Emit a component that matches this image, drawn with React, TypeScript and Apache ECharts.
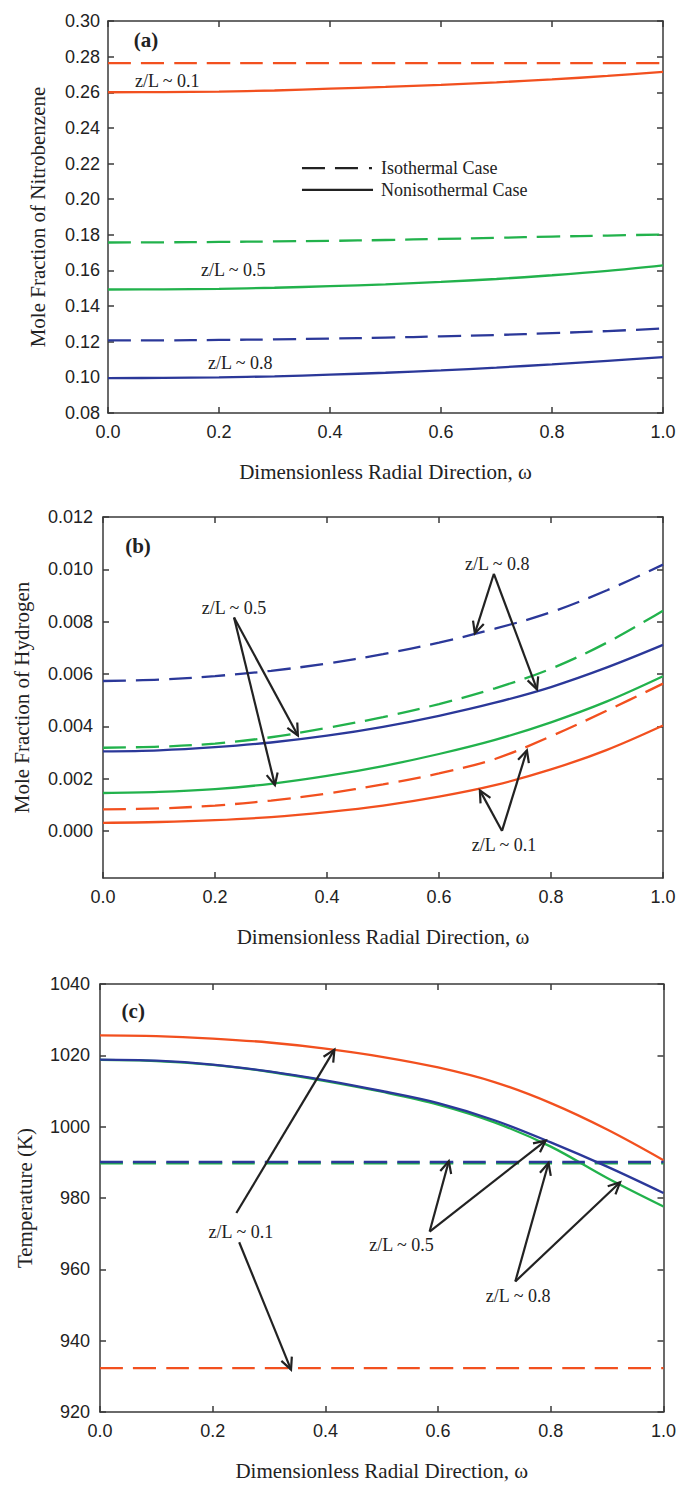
import React, { useEffect, useRef } from "react";
import * as echarts from "echarts";

// Dimensionless radial position sampled across the reactor tube
const omega = [0, 0.1, 0.2, 0.3, 0.4, 0.5, 0.6, 0.7, 0.8, 0.9, 1.0];

// (a) mole fraction of nitrobenzene
const nbIso01 = [0.2764, 0.2764, 0.2764, 0.2764, 0.2764, 0.2764, 0.2764, 0.2764, 0.2764, 0.2764, 0.2764];
const nbNon01 = [0.2600, 0.2601, 0.2604, 0.2610, 0.2620, 0.2630, 0.2642, 0.2656, 0.2672, 0.2692, 0.2714];
const nbIso05 = [0.1757, 0.1758, 0.1760, 0.1763, 0.1766, 0.1771, 0.1777, 0.1783, 0.1790, 0.1796, 0.1802];
const nbNon05 = [0.1493, 0.1494, 0.1497, 0.1503, 0.1512, 0.1522, 0.1536, 0.1552, 0.1573, 0.1598, 0.1629];
const nbIso08 = [0.1208, 0.1208, 0.1210, 0.1213, 0.1218, 0.1223, 0.1230, 0.1238, 0.1248, 0.1260, 0.1274];
const nbNon08 = [0.0996, 0.0997, 0.1000, 0.1006, 0.1015, 0.1026, 0.1039, 0.1055, 0.1073, 0.1093, 0.1114];

// (b) mole fraction of hydrogen
const h2Iso08 = [0.00573, 0.00578, 0.00592, 0.00612, 0.00640, 0.00676, 0.00720, 0.00773, 0.00836, 0.00920, 0.01018];
const h2Non08 = [0.00304, 0.00308, 0.00320, 0.00338, 0.00364, 0.00398, 0.00440, 0.00490, 0.00550, 0.00625, 0.00711];
const h2Iso05 = [0.00318, 0.00322, 0.00334, 0.00358, 0.00394, 0.00435, 0.00485, 0.00545, 0.00620, 0.00720, 0.00842];
const h2Non05 = [0.00145, 0.00149, 0.00160, 0.00180, 0.00210, 0.00248, 0.00294, 0.00348, 0.00415, 0.00495, 0.00591];
const h2Iso01 = [0.00082, 0.00086, 0.00097, 0.00116, 0.00143, 0.00178, 0.00220, 0.00275, 0.00362, 0.00460, 0.00563];
const h2Non01 = [0.00031, 0.00034, 0.00041, 0.00053, 0.00072, 0.00097, 0.00131, 0.00175, 0.00235, 0.00310, 0.00403];

// (c) temperature, K
const tIso01 = [932.3, 932.3, 932.3, 932.3, 932.3, 932.3, 932.3, 932.3, 932.3, 932.3, 932.3];
const tNon01 = [1025.6, 1025.4, 1024.7, 1023.6, 1021.9, 1019.6, 1016.6, 1012.5, 1006.6, 999.2, 990.6];
const tIso05 = [989.7, 989.7, 989.7, 989.7, 989.7, 989.7, 989.7, 989.7, 989.7, 989.7, 989.7];
const tNon05 = [1018.7, 1018.4, 1017.3, 1015.4, 1012.8, 1009.8, 1006.2, 1001.2, 994.4, 985.6, 977.6];
const tIso08 = [990.1, 990.1, 990.1, 990.1, 990.1, 990.1, 990.1, 990.1, 990.1, 990.1, 990.1];
const tNon08 = [1018.8, 1018.5, 1017.4, 1015.5, 1013.0, 1010.0, 1006.6, 1001.8, 995.6, 988.8, 981.4];

// Tick labels
const h2Ticks = [0, 0.002, 0.004, 0.006, 0.008, 0.010, 0.012];

const RED = "#F2501F";
const GREEN = "#22B24C";
const BLUE = "#2B3899";
const INK = "#222222";
const AXIS = "#3a3a3a";
const SANS = '"Liberation Sans", Arial, sans-serif';
const SERIF = '"Liberation Serif", "Times New Roman", serif';
const DASH = [23, 10];

type Pt = [number, number];
type Note = { text: string; at: Pt; align?: "left" | "center"; bold?: boolean; size?: number; arrows?: { from: Pt; to: Pt }[] };

// Annotations in each panel's data coordinates
const notesA: Note[] = [
  { text: "(a)", at: [0.0685, 0.2893], align: "center", bold: true, size: 21 },
  { text: "z/L ~ 0.1", at: [0.0486, 0.2663], align: "left" },
  { text: "z/L ~ 0.5", at: [0.1676, 0.1603], align: "left" },
  { text: "z/L ~ 0.8", at: [0.180, 0.1081], align: "left" },
];
const notesB: Note[] = [
  { text: "(b)", at: [0.0625, 0.01091], align: "center", bold: true, size: 21 },
  {
    text: "z/L ~ 0.5", at: [0.234, 0.00854],
    arrows: [{ from: [0.234, 0.00816], to: [0.348, 0.00365] }, { from: [0.234, 0.00816], to: [0.307, 0.00175] }],
  },
  {
    text: "z/L ~ 0.8", at: [0.704, 0.01022],
    arrows: [{ from: [0.698, 0.00983], to: [0.664, 0.00755] }, { from: [0.698, 0.00983], to: [0.775, 0.00541] }],
  },
  {
    text: "z/L ~ 0.1", at: [0.716, -0.00055],
    arrows: [{ from: [0.7125, 0.0], to: [0.673, 0.00155] }, { from: [0.7125, 0.0], to: [0.757, 0.00308] }],
  },
];
const notesC: Note[] = [
  { text: "(c)", at: [0.059, 1032.3], align: "center", bold: true, size: 21 },
  {
    text: "z/L ~ 0.1", at: [0.25, 970.6],
    arrows: [{ from: [0.242, 975.8], to: [0.416, 1021.6] }, { from: [0.247, 967.6], to: [0.339, 931.9] }],
  },
  {
    text: "z/L ~ 0.5", at: [0.535, 966.9],
    arrows: [{ from: [0.585, 970.6], to: [0.619, 990.3] }, { from: [0.585, 970.6], to: [0.791, 996.1] }],
  },
  {
    text: "z/L ~ 0.8", at: [0.742, 952.4],
    arrows: [{ from: [0.737, 956.6], to: [0.796, 989.8] }, { from: [0.737, 956.6], to: [0.923, 984.4] }],
  },
];

const grids = [
  { left: 108, top: 21, width: 555, height: 392 },
  { left: 103, top: 517, width: 560, height: 361 },
  { left: 100, top: 984, width: 565, height: 428 },
];

const pairs = (ys: number[]) => omega.map((w, i) => [w, ys[i]]);

function line(name: string, ys: number[], color: string, dashed: boolean, panel: number) {
  return {
    type: "line",
    name,
    xAxisIndex: panel * 2,
    yAxisIndex: panel * 2,
    data: pairs(ys),
    smooth: 0.35,
    showSymbol: false,
    symbol: "none",
    lineStyle: { color, width: 2.3, type: dashed ? DASH : "solid" },
    z: 2,
  };
}

function xAxes(panel: number) {
  const common = {
    type: "value",
    gridIndex: panel,
    min: 0,
    max: 1,
    interval: 0.2,
    splitLine: { show: false },
    axisLine: { show: true, onZero: false, lineStyle: { color: AXIS, width: 1.5 } },
    axisTick: { show: true, inside: true, length: 6, lineStyle: { color: AXIS, width: 1.5 } },
  };
  return [
    {
      ...common,
      position: "bottom",
      name: "Dimensionless Radial Direction, \u03c9",
      nameLocation: "middle",
      nameGap: 48,
      nameTextStyle: { fontFamily: SERIF, fontSize: 21, color: INK },
      axisLabel: {
        show: true, margin: 10, fontFamily: SANS, fontSize: 18, color: INK,
        formatter: (v: number) => v.toFixed(1),
      },
    },
    { ...common, position: "top", axisLabel: { show: false } },
  ];
}

function yAxes(panel: number, o: any) {
  const common = {
    type: "value",
    gridIndex: panel,
    min: o.min,
    max: o.max,
    interval: o.interval,
    splitLine: { show: false },
    axisLine: { show: true, onZero: false, lineStyle: { color: AXIS, width: 1.5 } },
    axisTick: {
      show: true, inside: true, length: 6, lineStyle: { color: AXIS, width: 1.5 },
      ...(o.ticks ? { customValues: o.ticks } : {}),
    },
  };
  return [
    {
      ...common,
      position: "left",
      name: o.name,
      nameLocation: "middle",
      nameGap: o.nameGap,
      nameTextStyle: { fontFamily: SERIF, fontSize: 21, color: INK },
      axisLabel: {
        show: true, margin: o.margin, fontFamily: SANS, fontSize: 18, color: INK,
        formatter: (v: number) => v.toFixed(o.digits),
        ...(o.ticks ? { customValues: o.ticks } : {}),
      },
    },
    { ...common, position: "right", axisLabel: { show: false } },
  ];
}

function arrowGraphics(p0: number[], p1: number[]) {
  const ang = Math.atan2(p1[1] - p0[1], p1[0] - p0[0]);
  const len = 13;
  const spread = Math.PI / 7;
  const a1 = [p1[0] - len * Math.cos(ang - spread), p1[1] - len * Math.sin(ang - spread)];
  const a2 = [p1[0] - len * Math.cos(ang + spread), p1[1] - len * Math.sin(ang + spread)];
  const st = { stroke: INK, lineWidth: 2.2, fill: null };
  return [
    { type: "line", z: 100, shape: { x1: p0[0], y1: p0[1], x2: p1[0], y2: p1[1] }, style: st },
    { type: "polyline", z: 100, shape: { points: [a1, p1, a2] }, style: st },
  ];
}

export default function App() {
  const ref = useRef<HTMLDivElement>(null);

  useEffect(() => {
    if (!ref.current) return;
    const chart = echarts.init(ref.current, undefined, { renderer: "svg" });

    const option: any = {
      animation: false,
      backgroundColor: "#ffffff",
      grid: grids.map((g) => ({ ...g, show: false })),
      xAxis: [...xAxes(0), ...xAxes(1), ...xAxes(2)],
      yAxis: [
        ...yAxes(0, { min: 0.08, max: 0.30, interval: 0.02, digits: 2, margin: 8, nameGap: 60, name: "Mole Fraction of Nitrobenzene" }),
        ...yAxes(1, { min: -0.0018, max: 0.012, digits: 3, margin: 10, nameGap: 71, name: "Mole Fraction of Hydrogen", ticks: h2Ticks }),
        ...yAxes(2, { min: 920, max: 1040, interval: 20, digits: 0, margin: 10, nameGap: 65, name: "Temperature (K)" }),
      ],
      series: [
        line("Isothermal z/L~0.1", nbIso01, RED, true, 0),
        line("Nonisothermal z/L~0.1", nbNon01, RED, false, 0),
        line("Isothermal z/L~0.5", nbIso05, GREEN, true, 0),
        line("Nonisothermal z/L~0.5", nbNon05, GREEN, false, 0),
        line("Isothermal z/L~0.8", nbIso08, BLUE, true, 0),
        line("Nonisothermal z/L~0.8", nbNon08, BLUE, false, 0),

        line("Isothermal z/L~0.1", h2Iso01, RED, true, 1),
        line("Nonisothermal z/L~0.1", h2Non01, RED, false, 1),
        line("Isothermal z/L~0.5", h2Iso05, GREEN, true, 1),
        line("Nonisothermal z/L~0.5", h2Non05, GREEN, false, 1),
        line("Isothermal z/L~0.8", h2Iso08, BLUE, true, 1),
        line("Nonisothermal z/L~0.8", h2Non08, BLUE, false, 1),

        line("Isothermal z/L~0.1", tIso01, RED, true, 2),
        line("Nonisothermal z/L~0.1", tNon01, RED, false, 2),
        line("Isothermal z/L~0.5", tIso05, GREEN, true, 2),
        line("Nonisothermal z/L~0.5", tNon05, GREEN, false, 2),
        line("Isothermal z/L~0.8", tIso08, BLUE, true, 2),
        line("Nonisothermal z/L~0.8", tNon08, BLUE, false, 2),
      ],
    };
    chart.setOption(option);

    // Place annotations and the legend in data coordinates of each panel
    const toPx = (panel: number, p: Pt) =>
      chart.convertToPixel({ xAxisIndex: panel * 2, yAxisIndex: panel * 2 } as any, p) as number[];

    const elements: any[] = [];
    [notesA, notesB, notesC].forEach((notes, panel) => {
      notes.forEach((n) => {
        const c = toPx(panel, n.at);
        elements.push({
          type: "text",
          z: 100,
          x: c[0],
          y: c[1],
          style: {
            text: n.text,
            fill: INK,
            font: `${n.bold ? "bold " : ""}${n.size ?? 18}px ${SERIF}`,
            textAlign: n.align ?? "center",
            textVerticalAlign: "middle",
          },
        });
        (n.arrows ?? []).forEach((a) => {
          elements.push(...arrowGraphics(toPx(panel, a.from), toPx(panel, a.to)));
        });
      });
    });

    // Legend for panel (a)
    const l0 = toPx(0, [0.3495, 0.2174]);
    const l1 = toPx(0, [0.4757, 0.2174]);
    const s0 = toPx(0, [0.3495, 0.2052]);
    const s1 = toPx(0, [0.4775, 0.2052]);
    const lt = toPx(0, [0.492, 0.2174]);
    const st = toPx(0, [0.492, 0.2052]);
    elements.push(
      { type: "line", z: 100, shape: { x1: l0[0], y1: l0[1], x2: l1[0], y2: l1[1] }, style: { stroke: INK, lineWidth: 2.2, lineDash: [23, 10, 23, 11, 3, 60] } },
      { type: "line", z: 100, shape: { x1: s0[0], y1: s0[1], x2: s1[0], y2: s1[1] }, style: { stroke: INK, lineWidth: 2.2 } },
      { type: "text", z: 100, x: lt[0], y: lt[1], style: { text: "Isothermal Case", fill: INK, font: `18px ${SERIF}`, textAlign: "left", textVerticalAlign: "middle" } },
      { type: "text", z: 100, x: st[0], y: st[1], style: { text: "Nonisothermal Case", fill: INK, font: `18px ${SERIF}`, textAlign: "left", textVerticalAlign: "middle" } },
    );

    chart.setOption({ graphic: elements });

    return () => chart.dispose();
  }, []);

  return (
    <div
      ref={ref}
      style={{ position: "absolute", left: 0, top: 0, width: 679, height: 1487, background: "#fff" }}
    />
  );
}
